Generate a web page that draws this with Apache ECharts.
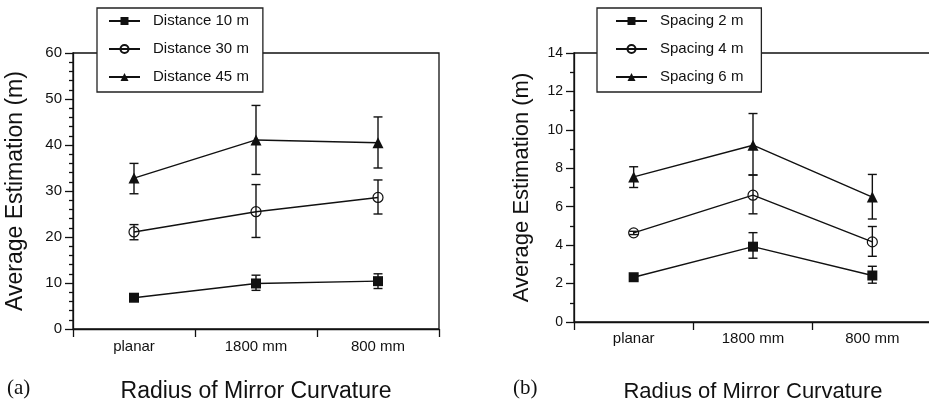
<!DOCTYPE html>
<html><head><meta charset="utf-8">
<script src="https://cdn.jsdelivr.net/npm/echarts@6/dist/echarts.min.js"></script>
<style>html,body{margin:0;padding:0;background:#fff}#c{width:929px;height:406px}</style>
</head><body><div id="c"></div>
<script>
const categories = ['planar', '1800 mm', '800 mm'];

const distNames = ['Distance 10 m', 'Distance 30 m', 'Distance 45 m'];
const dist10 = [6.8, 9.9, 10.4];
const dist10Lo = [6.3, 8.4, 8.8];
const dist10Hi = [7.3, 11.7, 12.0];
const dist30 = [21.1, 25.5, 28.6];
const dist30Lo = [19.4, 19.9, 25.0];
const dist30Hi = [22.7, 31.4, 32.4];
const dist45 = [32.8, 41.1, 40.5];
const dist45Lo = [29.4, 33.6, 35.0];
const dist45Hi = [36.0, 48.6, 46.1];

const spacNames = ['Spacing 2 m', 'Spacing 4 m', 'Spacing 6 m'];
const spac2 = [2.33, 3.92, 2.42];
const spac2Lo = [2.2, 3.32, 2.02];
const spac2Hi = [2.45, 4.65, 2.9];
const spac4 = [4.64, 6.6, 4.17];
const spac4Lo = [4.55, 5.63, 3.42];
const spac4Hi = [4.72, 7.65, 4.97];
const spac6 = [7.55, 9.2, 6.5];
const spac6Lo = [7.0, 7.65, 5.36];
const spac6Hi = [8.08, 10.85, 7.68];

const FONT = '"Liberation Sans", Arial, sans-serif';
const INK = '#111';

function errSeries(name, gi, lo, hi) {
  return {
    type: 'custom', name: name, xAxisIndex: gi, yAxisIndex: gi, z: 5, silent: true,
    data: lo.map((l, i) => [i, l, hi[i]]),
    encode: { x: 0, y: [1, 2] },
    renderItem: function (params, api) {
      const x = api.value(0);
      const p1 = api.coord([x, api.value(1)]);
      const p2 = api.coord([x, api.value(2)]);
      const w = 4.5;
      const st = { stroke: INK, lineWidth: 1.4 };
      return {
        type: 'group', children: [
          { type: 'line', shape: { x1: p1[0], y1: p1[1], x2: p2[0], y2: p2[1] }, style: st },
          { type: 'line', shape: { x1: p1[0] - w, y1: p1[1], x2: p1[0] + w, y2: p1[1] }, style: st },
          { type: 'line', shape: { x1: p2[0] - w, y1: p2[1], x2: p2[0] + w, y2: p2[1] }, style: st }
        ]
      };
    }
  };
}

function lineSeries(name, gi, data, symbol, size, hollow) {
  return {
    type: 'line', name: name, xAxisIndex: gi, yAxisIndex: gi, data: data,
    symbol: symbol, symbolSize: size, z: 4,
    lineStyle: { color: INK, width: 1.4 },
    itemStyle: hollow ? { color: 'rgba(255,255,255,0)', borderColor: INK, borderWidth: 1.2 } : { color: INK, borderWidth: 0 },
    emphasis: { disabled: true }
  };
}

function xAxisCfg(gi, nameGap, fs, margin) {
  return {
    type: 'category', gridIndex: gi, data: categories, boundaryGap: true,
    name: 'Radius of Mirror Curvature', nameLocation: 'middle', nameGap: nameGap,
    nameTextStyle: { fontFamily: FONT, fontSize: fs, color: INK },
    axisLine: { lineStyle: { color: INK, width: 1.3 } },
    axisTick: { show: true, length: 8, alignWithLabel: false, lineStyle: { color: INK, width: 1.3 } },
    axisLabel: { fontFamily: FONT, fontSize: 15, color: INK, margin: margin },
    splitLine: { show: false }
  };
}

function yAxisCfg(gi, max, interval, minorSplit, nameGap, fs, labelFs) {
  return {
    type: 'value', gridIndex: gi, min: 0, max: max, interval: interval,
    name: 'Average Estimation (m)', nameLocation: 'middle', nameGap: nameGap,
    nameTextStyle: { fontFamily: FONT, fontSize: fs, color: INK },
    axisLine: { show: true, lineStyle: { color: INK, width: 1.3 } },
    axisTick: { show: true, length: 8, lineStyle: { color: INK, width: 1.3 } },
    minorTick: { show: true, splitNumber: minorSplit, length: 4, lineStyle: { color: INK, width: 1.3 } },
    axisLabel: { fontFamily: FONT, fontSize: labelFs, color: INK, margin: 11 },
    splitLine: { show: false }, minorSplitLine: { show: false }
  };
}

function legendCfg(names, left, padding) {
  return {
    data: names, orient: 'vertical', left: left, top: 8,
    itemWidth: 31, itemHeight: 10, itemGap: 12, padding: padding,
    borderColor: '#222', borderWidth: 1.3, backgroundColor: '#fff',
    textStyle: { fontFamily: FONT, fontSize: 15, color: INK, lineHeight: 16, padding: [0, 0, 0, 8] },
    selectedMode: false, z: 10
  };
}

const chart = echarts.init(document.getElementById('c'));
chart.setOption({
  animation: false,
  backgroundColor: '#fff',
  grid: [
    { left: 73, right: 490, top: 53, bottom: 77, outerBoundsMode: 'none', containLabel: false, show: true, borderColor: INK, borderWidth: 1.3, backgroundColor: 'transparent' },
    { left: 574, right: -3, top: 53, bottom: 84, outerBoundsMode: 'none', containLabel: false, show: true, borderColor: INK, borderWidth: 1.3, backgroundColor: 'transparent' }
  ],
  legend: [
    legendCfg(distNames, 97, [5, 14, 7, 11]),
    legendCfg(spacNames, 597, [5, 18, 7, 18])
  ],
  xAxis: [xAxisCfg(0, 51, 23, 10), xAxisCfg(1, 59, 22, 9)],
  yAxis: [yAxisCfg(0, 60, 10, 5, 46, 23, 15), yAxisCfg(1, 14, 2, 2, 41, 22, 14)],
  graphic: [
    { type: 'text', left: 7, top: 378, style: { text: '(a)', fontFamily: '"Liberation Serif", "Times New Roman", serif', fontSize: 21, fill: INK } },
    { type: 'text', left: 513, top: 378, style: { text: '(b)', fontFamily: '"Liberation Serif", "Times New Roman", serif', fontSize: 21, fill: INK } }
  ],
  series: [
    lineSeries(distNames[0], 0, dist10, 'rect', 10, false),
    lineSeries(distNames[1], 0, dist30, 'circle', 10, true),
    lineSeries(distNames[2], 0, dist45, 'triangle', 11, false),
    errSeries('err-d10', 0, dist10Lo, dist10Hi),
    errSeries('err-d30', 0, dist30Lo, dist30Hi),
    errSeries('err-d45', 0, dist45Lo, dist45Hi),
    lineSeries(spacNames[0], 1, spac2, 'rect', 10, false),
    lineSeries(spacNames[1], 1, spac4, 'circle', 10, true),
    lineSeries(spacNames[2], 1, spac6, 'triangle', 11, false),
    errSeries('err-s2', 1, spac2Lo, spac2Hi),
    errSeries('err-s4', 1, spac4Lo, spac4Hi),
    errSeries('err-s6', 1, spac6Lo, spac6Hi)
  ]
});
</script></body></html>
